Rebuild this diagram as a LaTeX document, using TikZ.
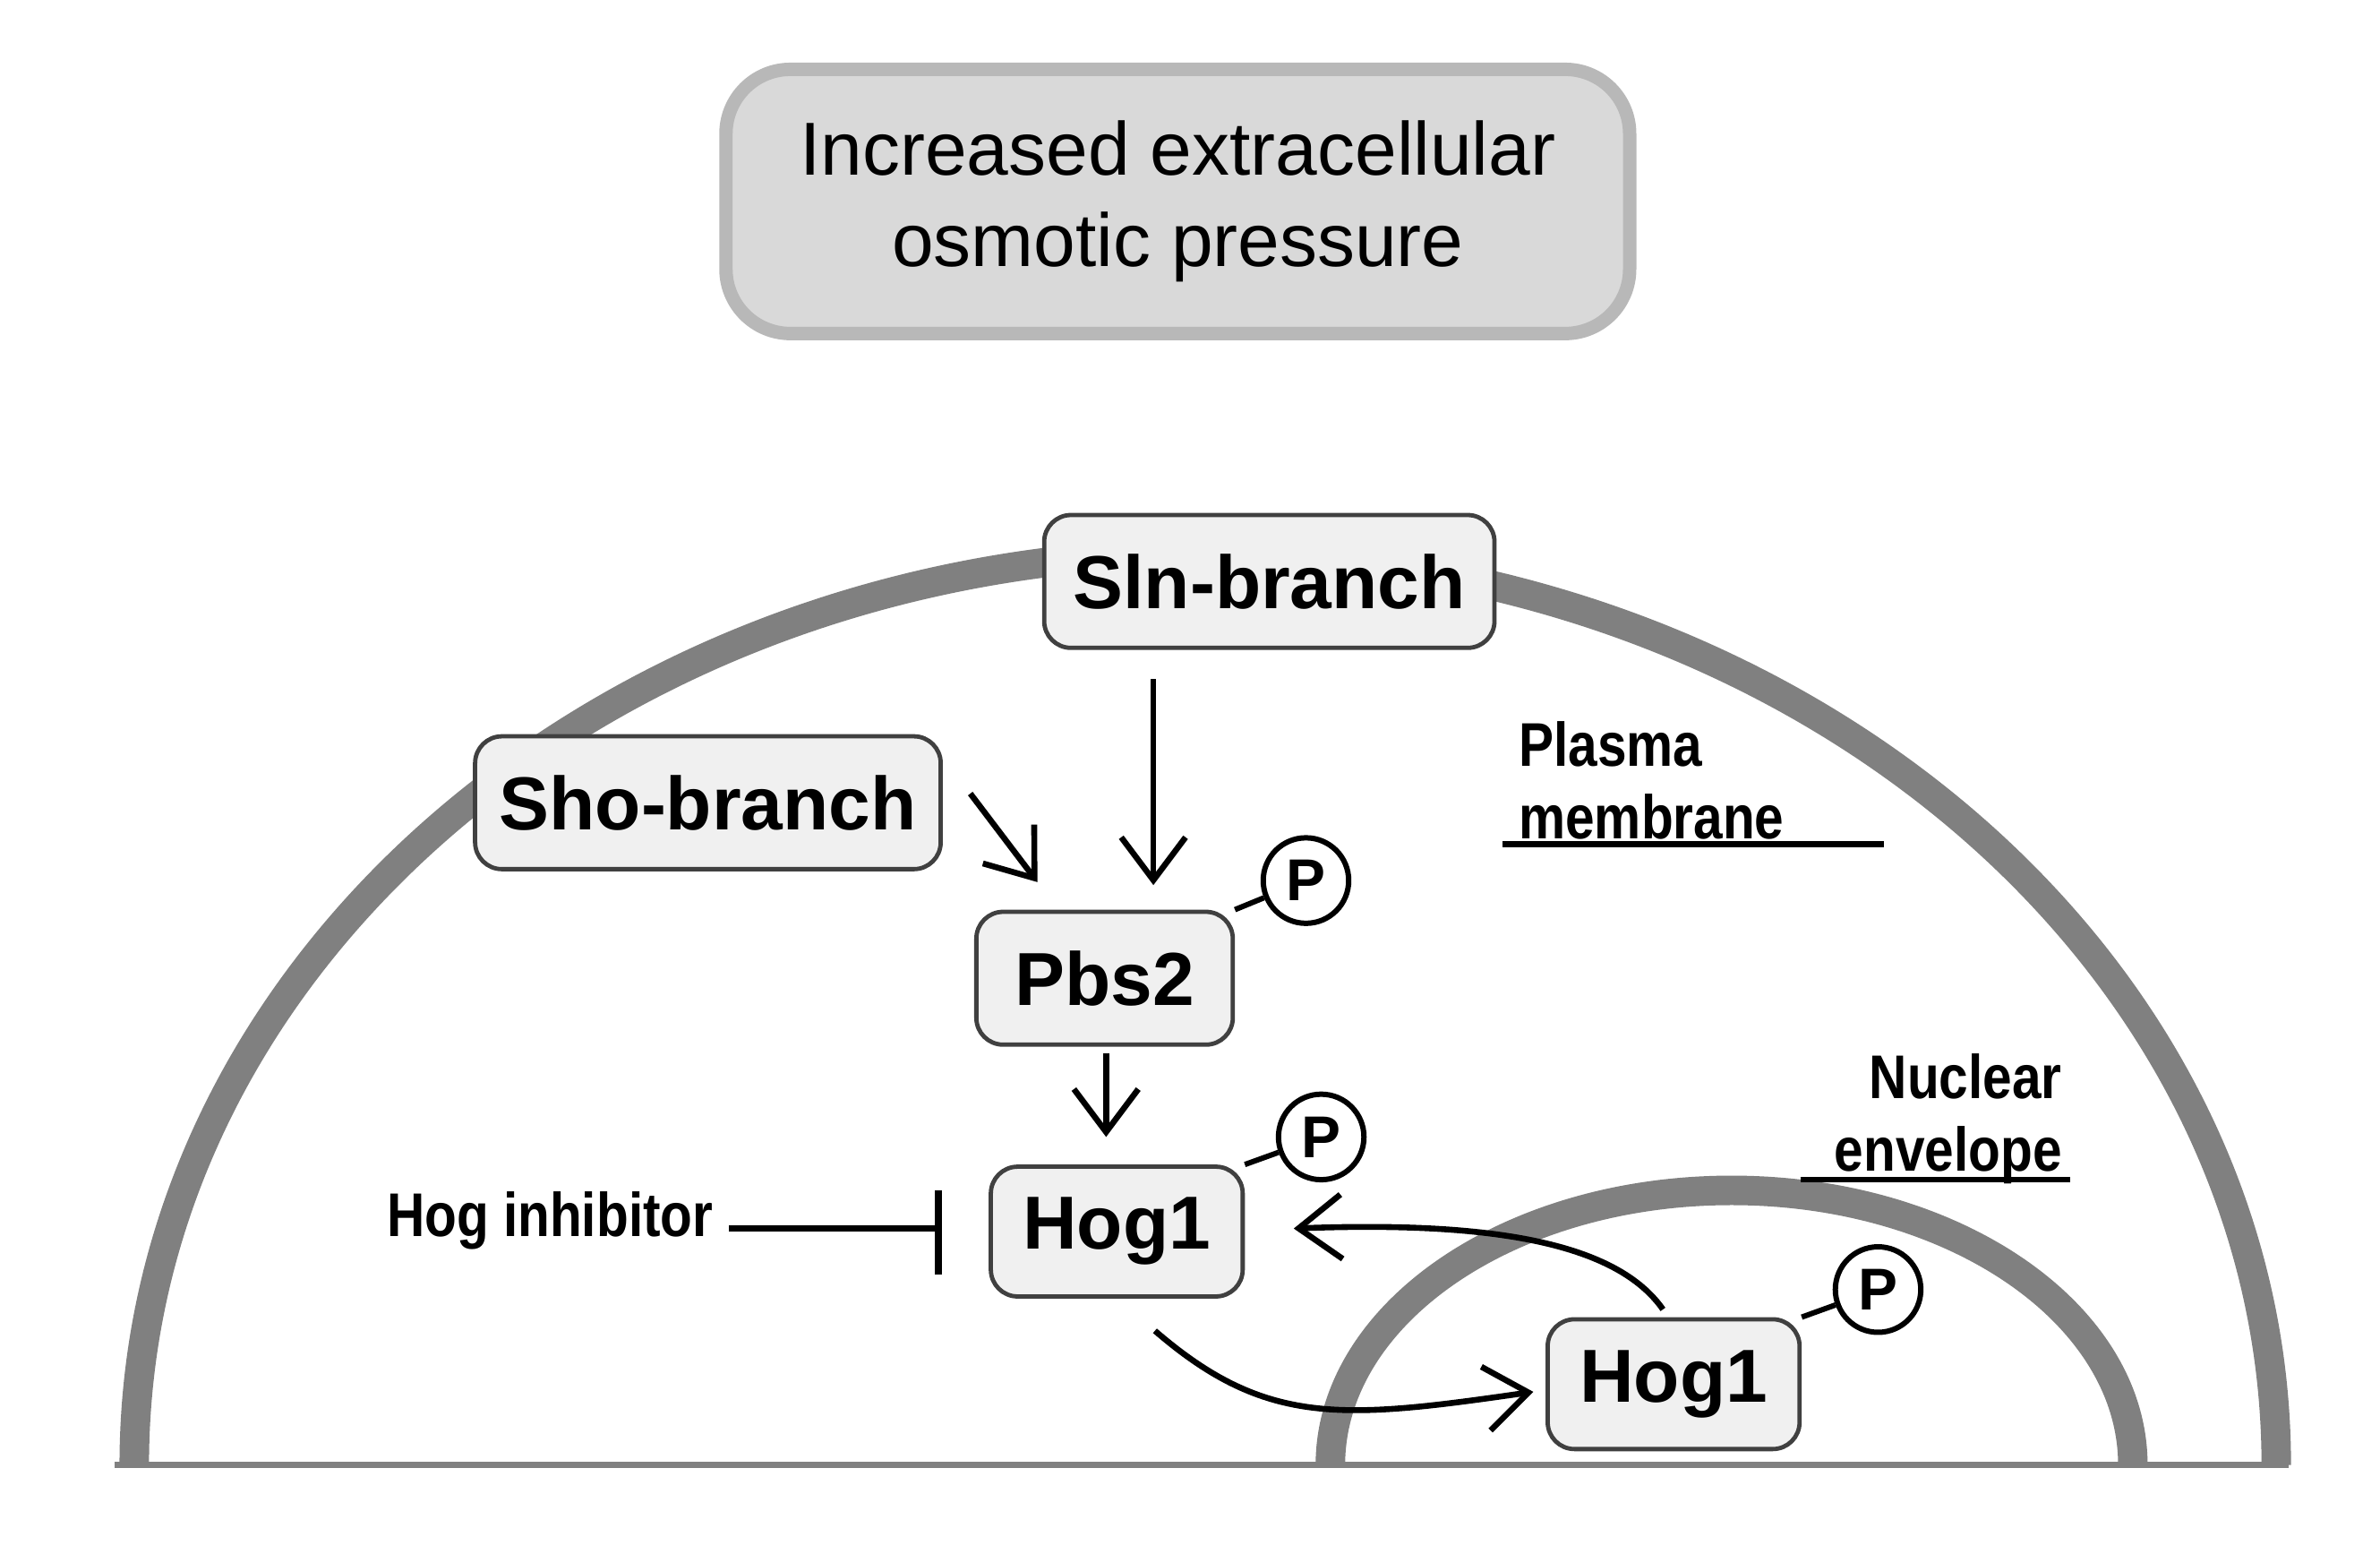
\documentclass[tikz,border=0pt]{standalone}
\usepackage{fontspec}
\setmainfont{Liberation Sans}
\usetikzlibrary{arrows.meta}
\begin{document}
\begin{tikzpicture}[x=0.01cm,y=-0.01cm,
 box/.style={draw=black!75,line width=0.8pt,fill=black!6,rounded corners=5pt,font=\fontsize{14}{17}\selectfont\bfseries,inner sep=0pt},
 pc/.style={circle,draw,line width=1pt,fill=white,minimum size=0.56cm,inner sep=0pt,font=\fontsize{11}{12}\selectfont\bfseries},
 arr/.style={line width=1.1pt,-{Straight Barb[length=8pt,width=12pt,line width=1.1pt]}},
 lbl/.style={font=\fontsize{11.5}{13.5}\selectfont\bfseries,inner sep=0pt}]
\useasboundingbox (0,0) rectangle (1560,1018);
% membranes
\draw[black!50,line width=5.5pt] (88,960) arc[start angle=180,end angle=360,x radius=702,y radius=598];
\draw[black!50,line width=5.5pt] (872,960) arc[start angle=180,end angle=360,x radius=263,y radius=180];
\draw[black!50,line width=1.2pt] (75,960) -- (1500,960);
% top box
\node[draw=black!28,line width=2.5pt,fill=black!15,rounded corners=12pt,minimum width=5.92cm,minimum height=1.73cm,align=center,font=\fontsize{14}{17}\selectfont] (top) at (772,132) {Increased extracellular\\osmotic pressure};
% boxes
\node[box,minimum width=2.95cm,minimum height=0.87cm] (sln) at (832,381) {Sln-branch};
\node[box,minimum width=3.05cm,minimum height=0.87cm] (sho) at (464,526) {Sho-branch};
\node[box,minimum width=1.68cm,minimum height=0.87cm] (pbs) at (724,641) {Pbs2};
\node[box,minimum width=1.65cm,minimum height=0.85cm] (hog) at (732,807) {Hog1};
\node[box,minimum width=1.65cm,minimum height=0.85cm] (hogn) at (1097,907) {Hog1};
% P
\node[pc] (p1) at (856,577) {P};
\node[pc] (p2) at (866,745) {P};
\node[pc] (p3) at (1231,845) {P};
\draw[line width=1pt] (pbs.north east) -- (p1);
\draw[line width=1pt] (hog.north east) -- (p2);
\draw[line width=1pt] (hogn.north east) -- (p3);
% arrows
\coordinate (a1) at (756,445); \coordinate (a1e) at (756,580);
\draw[arr] (a1) -- (a1e);
\coordinate (a2) at (636,520); \coordinate (a2e) at (680,578);
\draw[arr] (a2) -- (a2e);
\coordinate (a3) at (725,690); \coordinate (a3e) at (725,745);
\draw[arr] (a3) -- (a3e);
\node[lbl,anchor=east,xscale=0.85] (inh) at (468,800) {Hog inhibitor};
\coordinate (bar) at (615,805);
\draw[line width=1.1pt] (478,805) -- (bar);
\draw[line width=1.4pt] (615,780) -- (615,835);
\coordinate (c1) at (1090,858); \coordinate (c1e) at (848,805);
\draw[arr] (c1) .. controls (1060,815) and (980,800) .. (c1e);
\coordinate (c2) at (757,872); \coordinate (c2e) at (1005,912);
\draw[arr] (c2) .. controls (830,935) and (880,930) .. (c2e);
% labels
\node[lbl,anchor=north west,align=left,xscale=0.85] (pm) at (995,472) {Plasma\\membrane};
\draw[line width=1.1pt] (985,553) -- (1235,553);
\node[lbl,anchor=north east,align=right,xscale=0.85] (ne) at (1352,690) {Nuclear\\envelope};
\draw[line width=1.1pt] (1180,773) -- (1357,773);
\end{tikzpicture}
\end{document}
